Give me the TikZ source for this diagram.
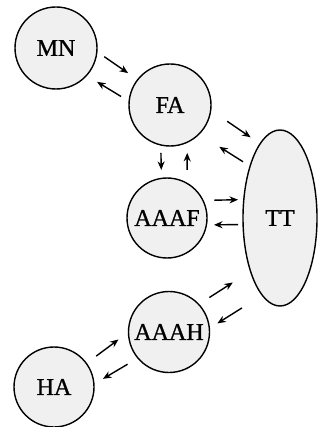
\documentclass[tikz,border=0pt]{standalone}
\usepackage{fontspec}
\setmainfont{Liberation Serif}
\newfontfamily\poolfont{Liberation Serif}[FakeBold=0.9]
\usetikzlibrary{arrows.meta,shapes.geometric}
\begin{document}
\begin{tikzpicture}[x=1pt,y=-1pt,
  pool/.style={circle,draw=black,line width=1.4pt,fill=black!6,
    minimum size=#1,inner sep=0pt,outer sep=0pt,
    font=\poolfont\fontsize{24}{24}\selectfont},
  pool/.default=82pt,
  arr/.style={line width=1.4pt,-{Stealth[length=8.5pt,width=7pt]}}]
\useasboundingbox (0,0) rectangle (321,427);
% compartments
\node[pool] (MN) at (56,48) {MN};
\node[pool] (FA) at (170,105) {FA};
\node[pool=80pt] (AAAF) at (167,218) {AAAF};
\node[pool=81pt] (AAAH) at (169,332) {AAAH};
\node[pool=80pt] (HA) at (54,387) {HA};
\node[ellipse,draw=black,line width=1.4pt,fill=black!6,
      minimum width=74pt,minimum height=176pt,inner sep=0pt,outer sep=0pt,
      font=\poolfont\fontsize{24}{24}\selectfont] (TT) at (280,218) {TT};
% fluxes
\draw[arr,shorten <=9pt,shorten >=11.7pt] (MN.-5.4) -- (FA.142);
\draw[arr,shorten <=9.5pt,shorten >=12.4pt] (FA.175.8) -- (MN.-42);
\draw[arr,shorten <=20pt,shorten >=11.5pt] (FA.-7.9) -- (TT.105.7);
\draw[arr,shorten <=8.3pt,shorten >=24pt] (TT.120.2) -- (FA.-45.7);
\draw[arr,shorten <=8pt,shorten >=8.5pt] (FA.257.3) -- (AAAF.98.6);
\draw[arr,shorten <=13.4pt,shorten >=10.7pt] (AAAF.60) -- (FA.-65.5);
\draw[arr,shorten <=11.3pt,shorten >=5.8pt] (AAAF.26.8) -- (TT.153.6);
\draw[arr,shorten <=5.1pt,shorten >=7.6pt] (TT.190.7) -- (AAAF.-10.1);
\draw[arr,shorten <=12.7pt,shorten >=21pt] (AAAH.43) -- (TT.241.6);
\draw[arr,shorten <=24pt,shorten >=9.5pt] (TT.257.4) -- (AAAH.5.9);
\draw[arr,shorten <=12.3pt,shorten >=12.5pt] (HA.36.4) -- (AAAH.180);
\draw[arr,shorten <=12.1pt,shorten >=10.5pt] (AAAH.-140) -- (HA.4.1);
\end{tikzpicture}
\end{document}
